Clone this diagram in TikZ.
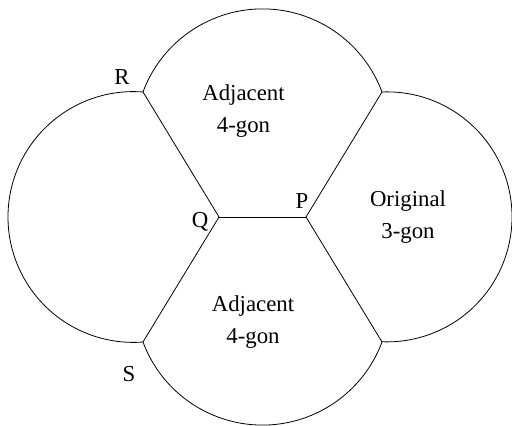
\documentclass[tikz,border=0pt]{standalone}
\usepackage{fontspec}
\setmainfont{Liberation Serif}
\usepackage{tikz}

\begin{document}
\begin{tikzpicture}[x=0.5pt, y=0.5pt, thin,
    face/.style={align=center, font=\fontsize{11.4}{16}\selectfont},
    corner/.style={font=\fontsize{11.4}{14}\selectfont}]

	\useasboundingbox (0,0) rectangle (512,426);

	\coordinate (r)  at (143, 334);
	\coordinate (tr) at (382, 334);
	\coordinate (q)  at (219, 209);
	\coordinate (p)  at (306, 209);
	\coordinate (s)  at (143, 84);
	\coordinate (br) at (382, 84);

	\node[corner] (rl) at (122, 349) {R};
	\node[corner] (ql) at (200, 204) {Q};
	\node[corner] (pl) at (302, 225) {P};
	\node[corner] (sl) at (129, 52)  {S};

	\node[face] (top)   at (243.5, 314.5) {Adjacent\\4-gon};
	\node[face] (bot)   at (253, 103.5)   {Adjacent\\4-gon};
	\node[face] (orig)  at (408, 209)     {Original\\3-gon};

	\draw (r) -- (q);
	\draw (s) -- (q);
	\draw (q) -- (p);
	\draw (p) -- (tr);
	\draw (p) -- (br);

	\draw (r)  arc[start angle=159.6, end angle=20.4,  radius=127.5];
	\draw (s)  arc[start angle=200.4, end angle=339.6, radius=127.5];
	\draw (r)  arc[start angle=85.6,  end angle=274.4, radius=125.4];
	\draw (tr) arc[start angle=92.3,  end angle=-92.3, radius=125];

\end{tikzpicture}
\end{document}
